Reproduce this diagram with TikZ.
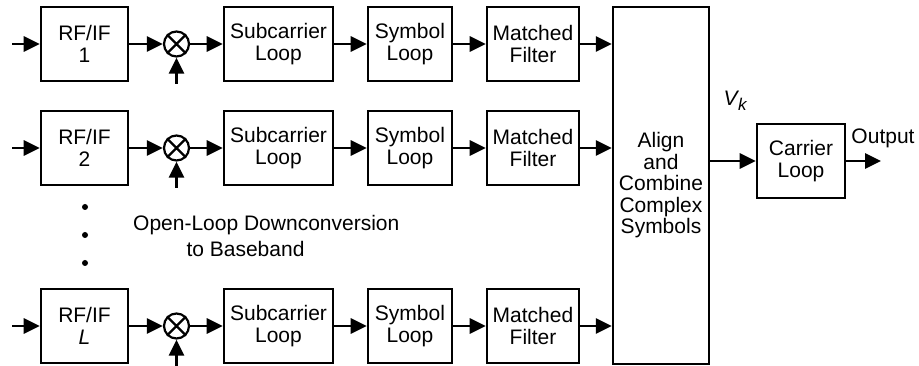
\documentclass[tikz,border=0pt]{standalone}
\usepackage{fontspec}
\setmainfont{Liberation Sans}
\usetikzlibrary{arrows.meta,calc}
\begin{document}
\begin{tikzpicture}[x=1pt,y=-1pt,
  every node/.style={font=\fontsize{21}{21.5}\selectfont},
  blk/.style={draw, line width=2.6pt, minimum height=74pt, align=center, inner sep=0pt},
  mix/.style={draw, circle, line width=2.2pt, minimum size=25pt, inner sep=0pt},
  arr/.style={line width=2.8pt, -{Triangle[length=16pt,width=15pt]}},
  dotm/.style={circle, fill, inner sep=0pt, minimum size=6pt}]
\useasboundingbox (0,0) rectangle (919,366);
% combine box
\node[blk, line width=2.4pt, minimum width=96pt, minimum height=357pt] (comb) at (661,185.5)
  {Align\\and\\Combine\\Complex\\Symbols};
% rows
\foreach \r/\y/\lab in {1/44/1, 2/148/2, 3/326/{\itshape L}} {
  \node[blk, minimum width=87pt] (rf\r) at (84.5,\y) {RF/IF\\\lab};
  \node[mix] (m\r) at (176.5,\y) {};
  \draw[line width=2.2pt] (m\r.north west) -- (m\r.south east) (m\r.north east) -- (m\r.south west);
  \node[blk, minimum width=109pt] (sc\r) at (278.5,\y) {Subcarrier\\Loop};
  \node[blk, minimum width=84pt] (sy\r) at (410,\y) {Symbol\\Loop};
  \node[blk, minimum width=92pt] (mf\r) at (533,\y) {Matched\\Filter};
  \coordinate (in\r) at (12,\y);
  \coordinate (lo\r) at (176.5,\y+40);
  \draw[arr] (in\r) -- (rf\r.west);
  \draw[arr] (rf\r.east) -- (m\r.west);
  \draw[arr] (lo\r) -- (m\r.south);
  \draw[arr] (m\r.east) -- (sc\r.west);
  \draw[arr] (sc\r.east) -- (sy\r.west);
  \draw[arr] (sy\r.east) -- (mf\r.west);
  \draw[arr] (mf\r.east) -- (mf\r.east -| comb.west);
}
% carrier loop
\node[blk, minimum width=88pt] (car) at (801,161) {Carrier\\Loop};
\draw[arr] (comb.east |- car.west) -- (car.west);
\coordinate (out) at (881,161);
\draw[arr] (car.east) -- (out);
\node (outl) at (883,138) {Output};
\node (vk) at (735,101) {\itshape V\kern0.5pt\raisebox{-5pt}{\fontsize{17}{17}\selectfont k}};
% dots
\node[dotm] (d1) at (85,207) {};
\node[dotm] (d2) at (85,235) {};
\node[dotm] (d3) at (85,263) {};
% annotation
\node[anchor=base west, inner sep=0pt] (ol1) at (133,230.5) {Open-Loop Downconversion};
\node[anchor=base, inner sep=0pt] (ol2) at (245.5,256.5) {to Baseband};
\end{tikzpicture}
\end{document}
